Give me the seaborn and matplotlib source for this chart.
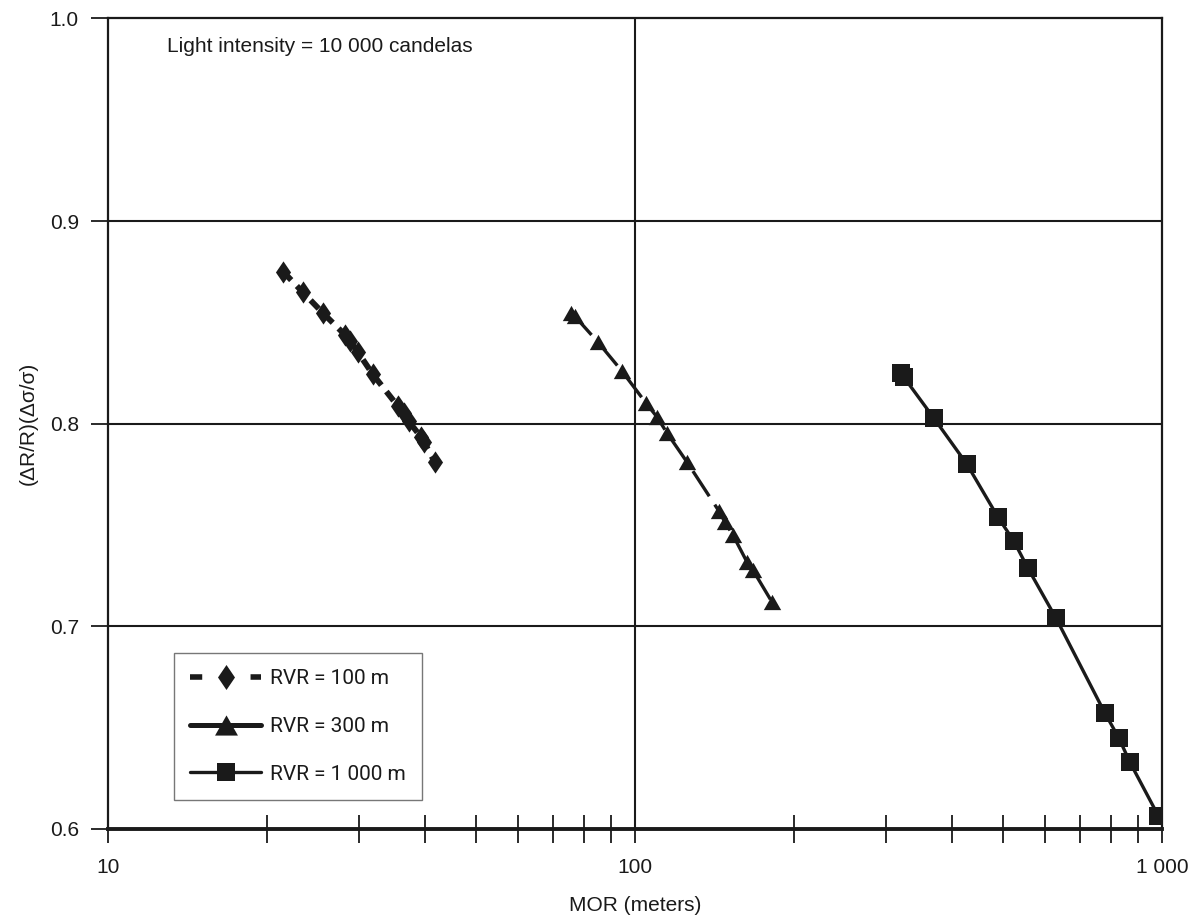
import numpy as np
import pandas as pd
import matplotlib
matplotlib.use("Agg")
import matplotlib.pyplot as plt
from matplotlib.lines import Line2D
from matplotlib.ticker import FixedLocator, FixedFormatter, NullFormatter
import seaborn as sns

# ---- data ----
mor_100 = [21.5, 23.4, 25.6, 28.2, 28.8, 29.8, 31.8, 35.5, 36.5, 37.2, 39.3, 39.8, 41.7]
val_100 = [0.875, 0.865, 0.8545, 0.8437, 0.8407, 0.8353, 0.8244, 0.8086, 0.8052, 0.8012, 0.7933, 0.7909, 0.781]

mor_300 = [75.6, 76.9, 85.1, 94.5, 105.0, 110.2, 115.1, 125.6, 144.4, 148.2, 153.5, 163.2, 167.5, 182.0]
val_300 = [0.8545, 0.853, 0.8402, 0.8259, 0.8101, 0.8032, 0.7953, 0.781, 0.7568, 0.7514, 0.745, 0.7317, 0.7277, 0.712]

mor_1000 = [319.8, 323.9, 369.3, 426.6, 488.5, 523.9, 556.8, 629.5, 779.6, 828.6, 869.4, 985.0]
val_1000 = [0.8249, 0.8229, 0.8027, 0.78, 0.7539, 0.742, 0.7287, 0.7041, 0.6572, 0.6449, 0.633, 0.6064]

series_labels = ["RVR = 100 m", "RVR = 300 m", "RVR = 1 000 m"]
x_major = [10, 100, 1000]
x_major_labels = ["10", "100", "1 000"]
y_ticks = [0.6, 0.7, 0.8, 0.9, 1.0]
y_tick_labels = ["0.6", "0.7", "0.8", "0.9", "1.0"]
annotation = "Light intensity = 10 000 candelas"
x_label = "MOR (meters)"
y_label = "(ΔR/R)(Δσ/σ)"

# ---- style ----
sns.set_theme(style="white")
plt.rcParams['font.family'] = ['Liberation Sans', 'DejaVu Sans']
INK = "#1a1a1a"
FS = 15

diamond = [(0, 1), (0.68, 0), (0, -1), (-0.68, 0)]
triangle = [(0, 0.88), (1, -0.88), (-1, -0.88)]

fig, ax = plt.subplots(figsize=(11.88, 9.18), dpi=100)
fig.subplots_adjust(left=0.0909, right=0.978, top=0.980, bottom=0.097)

d1 = pd.DataFrame({"MOR": mor_100, "v": val_100})
d2 = pd.DataFrame({"MOR": mor_300, "v": val_300})
d3 = pd.DataFrame({"MOR": mor_1000, "v": val_1000})

sns.lineplot(data=d1, x="MOR", y="v", ax=ax, estimator=None, sort=False,
             color=INK, linewidth=4.2, linestyle=(0, (2.0, 1.4)),
             marker=diamond, markersize=16, markeredgewidth=0, markerfacecolor=INK)
sns.lineplot(data=d2, x="MOR", y="v", ax=ax, estimator=None, sort=False,
             color=INK, linewidth=2.4, linestyle=(0, (9, 3)),
             marker=triangle, markersize=12.5, markeredgewidth=0, markerfacecolor=INK)
sns.lineplot(data=d3, x="MOR", y="v", ax=ax, estimator=None, sort=False,
             color=INK, linewidth=2.4, linestyle="-",
             marker="s", markersize=13.5, markeredgewidth=0, markerfacecolor=INK)

ax.set_xscale("log")
ax.set_xlim(10, 1000)
ax.set_ylim(0.6, 1.0)

ax.xaxis.set_major_locator(FixedLocator(x_major))
ax.xaxis.set_major_formatter(FixedFormatter(x_major_labels))
minor = [m * d for d in (10, 100) for m in range(2, 10)]
ax.xaxis.set_minor_locator(FixedLocator(minor))
ax.xaxis.set_minor_formatter(NullFormatter())
ax.set_yticks(y_ticks)
ax.set_yticklabels(y_tick_labels)

ax.tick_params(axis="x", which="both", direction="inout", length=20, width=1.3,
               color=INK, bottom=True, labelsize=FS, labelcolor=INK, pad=11)
ax.tick_params(axis="y", which="major", direction="out", length=12, width=1.3,
               color=INK, left=True, labelsize=FS, labelcolor=INK, pad=9)

# gridlines at major ticks only
for yv in y_ticks[1:-1]:
    ax.axhline(yv, color=INK, linewidth=1.5, zorder=0.5)
ax.axvline(100, color=INK, linewidth=1.5, zorder=0.5)

for side, s in ax.spines.items():
    s.set_visible(True)
    s.set_color(INK)
    s.set_linewidth(1.6)
ax.spines["bottom"].set_linewidth(2.8)

ax.set_xlabel(x_label, fontsize=FS, color=INK)
ax.set_ylabel(y_label, fontsize=FS, color=INK)
ax.xaxis.set_label_coords(0.5, -0.083)
ax.yaxis.set_label_coords(-0.067, 0.5)

ax.text(0.056, 0.965, annotation, transform=ax.transAxes, fontsize=FS,
        color=INK, ha="left", va="center")

handles = [
    Line2D([], [], color=INK, linewidth=4, linestyle=(0, (2.2, 8.7)),
           marker=diamond, markersize=18, markeredgewidth=0),
    Line2D([], [], color=INK, linewidth=3.6, linestyle="-",
           marker=triangle, markersize=16.5, markeredgewidth=0),
    Line2D([], [], color=INK, linewidth=2.4, linestyle="-",
           marker="s", markersize=13.5, markeredgewidth=0),
]
leg = ax.legend(handles, series_labels, loc="lower left",
                bbox_to_anchor=(0.0626, 0.0358), borderaxespad=0, frameon=True,
                fancybox=False, edgecolor="#555555", fontsize=FS,
                handlelength=3.4, labelspacing=1.38, borderpad=0.78,
                handletextpad=0.45)
leg.get_frame().set_linewidth(1.0)
for t in leg.get_texts():
    t.set_family(['Roboto', 'DejaVu Sans'])
    t.set_color(INK)

fig.savefig("out.png", dpi=100)
